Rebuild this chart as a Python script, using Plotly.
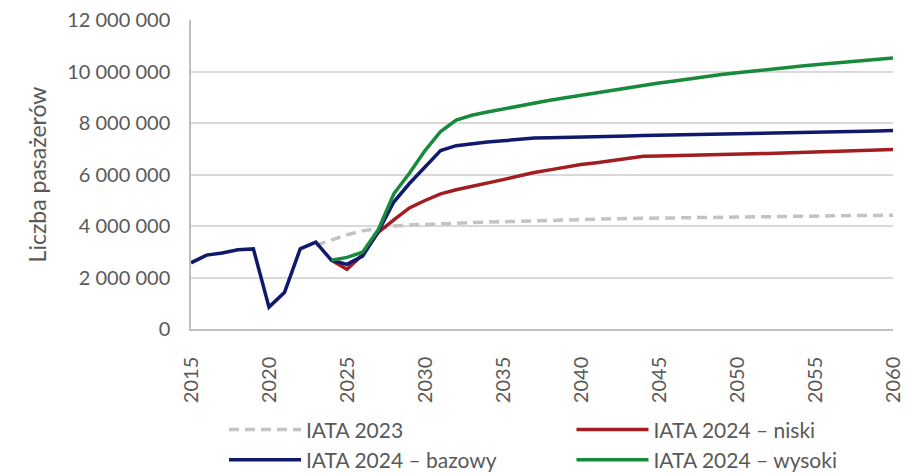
import plotly.graph_objects as go

iata2023_years = list(range(2023, 2061))
iata2023 = [3.25, 3.47, 3.66, 3.81, 3.92, 4.00, 4.04, 4.07, 4.09, 4.11, 4.13, 4.15, 4.17,
            4.19, 4.20, 4.22, 4.23, 4.25, 4.27, 4.28, 4.29, 4.30, 4.31, 4.32, 4.32, 4.33,
            4.33, 4.34, 4.34, 4.35, 4.36, 4.37, 4.38, 4.39, 4.40, 4.41, 4.41, 4.42]

scen_years = list(range(2024, 2061))
niski = [2.67, 2.32, 2.89, 3.75, 4.24, 4.70, 4.99, 5.25, 5.41, 5.53, 5.67, 5.80, 5.94,
         6.08, 6.18, 6.30, 6.39, 6.46, 6.55, 6.63, 6.71, 6.72, 6.74, 6.75, 6.77, 6.78,
         6.80, 6.81, 6.82, 6.84, 6.85, 6.87, 6.89, 6.91, 6.93, 6.95, 6.97]

bazowy_years = list(range(2015, 2061))
bazowy = [2.57, 2.87, 2.95, 3.08, 3.11, 0.85, 1.43, 3.11, 3.37,
          2.67, 2.51, 2.83, 3.78, 4.93, 5.65, 6.30, 6.93, 7.12, 7.20, 7.26, 7.31, 7.37,
          7.42, 7.43, 7.45, 7.46, 7.48, 7.49, 7.50, 7.51, 7.52, 7.53, 7.54, 7.55, 7.56,
          7.57, 7.58, 7.60, 7.62, 7.63, 7.64, 7.65, 7.67, 7.68, 7.69, 7.71]

wysoki = [2.67, 2.78, 2.98, 3.85, 5.25, 6.05, 6.93, 7.67, 8.11, 8.30, 8.43, 8.55, 8.67,
          8.78, 8.88, 8.98, 9.08, 9.18, 9.28, 9.37, 9.46, 9.55, 9.63, 9.72, 9.80, 9.88,
          9.95, 10.02, 10.08, 10.14, 10.20, 10.26, 10.31, 10.36, 10.41, 10.46, 10.52]

x_ticks = list(range(2015, 2061, 5))
y_ticks = [0, 2_000_000, 4_000_000, 6_000_000, 8_000_000, 10_000_000, 12_000_000]

M = 1_000_000
FONT = "Lato"
TXT = "#595959"

fig = go.Figure()
fig.add_trace(go.Scatter(x=iata2023_years, y=[v * M for v in iata2023], mode="lines",
                         name="IATA 2023", legend="legend",
                         line=dict(color="#c3c3c3", width=3.5, dash="10px,6px")))
fig.add_trace(go.Scatter(x=scen_years, y=[v * M for v in niski], mode="lines",
                         name="IATA 2024 – niski", legend="legend2",
                         line=dict(color="#a11d21", width=3.5)))
fig.add_trace(go.Scatter(x=bazowy_years, y=[v * M for v in bazowy], mode="lines",
                         name="IATA 2024 – bazowy", legend="legend",
                         line=dict(color="#0f1a6c", width=3.5)))
fig.add_trace(go.Scatter(x=scen_years, y=[v * M for v in wysoki], mode="lines",
                         name="IATA 2024 – wysoki", legend="legend2",
                         line=dict(color="#188a3c", width=3.5)))

legend_common = dict(orientation="v", yanchor="bottom", y=-0.49, xanchor="left",
                     font=dict(family=FONT, size=21, color=TXT),
                     traceorder="normal", itemwidth=72, tracegroupgap=0,
                     bgcolor="rgba(0,0,0,0)")

# page body adds an 8px offset, so the figure is 8px smaller than the window
fig.update_layout(
    width=914, height=465,
    margin=dict(l=183, r=29, t=12, b=144, autoexpand=False),
    paper_bgcolor="white", plot_bgcolor="white",
    separators=", ",
    font=dict(family=FONT, size=20, color=TXT),
    showlegend=True,
    legend=dict(x=0.047, **legend_common),
    legend2=dict(x=0.542, **legend_common),
)
fig.update_xaxes(range=[2015, 2060], tickvals=x_ticks, ticktext=[str(t) for t in x_ticks],
                 tickangle=-90, showgrid=False, showline=True, linecolor="#bfbfbf",
                 linewidth=1.5, ticks="", zeroline=False, automargin=False,
                 ticklabelstandoff=18, ticklabeloverflow="allow",
                 tickfont=dict(family=FONT, size=20, color=TXT))
fig.update_yaxes(range=[0, 12_000_000], tickvals=y_ticks, tickformat=",d",
                 showgrid=True, gridcolor="#d9d9d9", gridwidth=1.5,
                 showline=True, linecolor="#bfbfbf", linewidth=1.5, zeroline=False,
                 ticks="", automargin=False, ticklabelstandoff=15,
                 ticklabeloverflow="allow",
                 title=dict(text="Liczba pasażerów", font=dict(family=FONT, size=23, color=TXT),
                            standoff=14),
                 tickfont=dict(family=FONT, size=20, color=TXT))

fig.write_html("out.html")
